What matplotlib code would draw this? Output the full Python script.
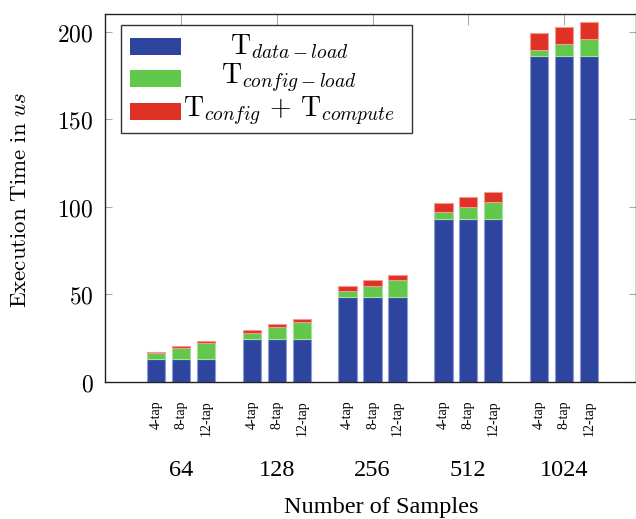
import numpy as np
import matplotlib
matplotlib.use("Agg")
import matplotlib.pyplot as plt
from matplotlib.patches import Rectangle

plt.rcParams['mathtext.fontset'] = 'cm'

# data (us)
sizes = ['64', '128', '256', '512', '1024']
taps = ['4-tap', '8-tap', '12-tap']
data_load = [12.9, 24.7, 48.4, 93.3, 186.3]
config_load = [[3.6, 6.6, 9.5],
               [3.4, 6.6, 9.7],
               [3.4, 6.5, 9.7],
               [3.6, 6.6, 9.7],
               [3.4, 6.5, 9.5]]
config_compute = [[0.8, 1.0, 1.1],
                  [1.5, 1.6, 1.7],
                  [2.9, 3.2, 3.0],
                  [5.3, 5.5, 5.4],
                  [9.3, 9.5, 9.5]]
yticks = [0, 50, 100, 150, 200]

c_blue = '#2e45a0'
c_green = '#62c84b'
c_red = '#e03224'
labels = [r'$\mathrm{T}_{data-load}$',
          r'$\mathrm{T}_{config-load}$',
          r'$\mathrm{T}_{config}\,+\,\mathrm{T}_{compute}$']

fig = plt.figure(figsize=(6.36, 5.19), dpi=100)
ax = fig.add_axes([105/636, 1-382/519, 531/636, 368/519])

off = 0.261
w = 0.193
xpos = []
for i in range(len(sizes)):
    for j in range(len(taps)):
        x = i + (j - 1) * off
        xpos.append(x)
        d = data_load[i]
        cl = config_load[i][j]
        cc = config_compute[i][j]
        ax.bar(x, d, w, color=c_blue, edgecolor='#8c9bd6', linewidth=0.8)
        ax.bar(x, cl, w, bottom=d, color=c_green, edgecolor='#a8e29a', linewidth=0.8)
        ax.bar(x, cc, w, bottom=d+cl, color=c_red, edgecolor='#f09a92', linewidth=0.8)

ax.set_xlim(-0.794, 4.752)
ax.set_ylim(0, 210)
ax.set_axisbelow(True)

ax.set_yticks(yticks, [f'${v}$' for v in yticks])
ax.tick_params(axis='y', direction='in', length=5, width=0.8, color='#aaaaaa',
               left=True, right=True, labelsize=17, pad=8)

ax.xaxis.remove_overlapping_locs = False
ax.set_xticks(range(len(sizes)), sizes, family='Liberation Serif')
ax.set_xticks(xpos, taps * len(sizes), minor=True, family='Liberation Serif')
ax.tick_params(axis='x', which='major', direction='in', length=8, width=0.8,
               color='#aaaaaa', top=True, bottom=True, labelsize=17.5, pad=56)
ax.tick_params(axis='x', which='minor', length=0, labelsize=10,
               labelrotation=90, pad=13)

for s in ax.spines.values():
    s.set_color('#222222')
    s.set_linewidth(1.0)

ax.set_xlabel('Number of Samples', family='Liberation Serif', fontsize=17.5)
ax.xaxis.set_label_coords((381-105)/531, -(507-382)/368)
ax.set_ylabel(r'$\mathrm{Execution\ Time\ in}\ us$', fontsize=16.5)
ax.yaxis.set_label_coords(-(105-20)/531, (382-200)/368)
ax.yaxis.label.set_va('center')
ax.xaxis.label.set_va('center')

# legend box drawn by hand so entries can be centred like the original
ax.add_patch(Rectangle((0.030, 0.677), 0.549, 0.293, transform=ax.transAxes,
                       facecolor='white', edgecolor='#333333', linewidth=1.0,
                       zorder=5))
rows = [0.911, 0.824, 0.736]
for y, c, lab in zip(rows, [c_blue, c_green, c_red], labels):
    ax.add_patch(Rectangle((0.047, y - 0.0235), 0.096, 0.047,
                           transform=ax.transAxes, facecolor=c,
                           edgecolor='none', zorder=6))
    ax.text(0.347, y, lab, transform=ax.transAxes, ha='center', va='center',
            fontsize=20, zorder=6)

fig.savefig('out.png', dpi=100)
